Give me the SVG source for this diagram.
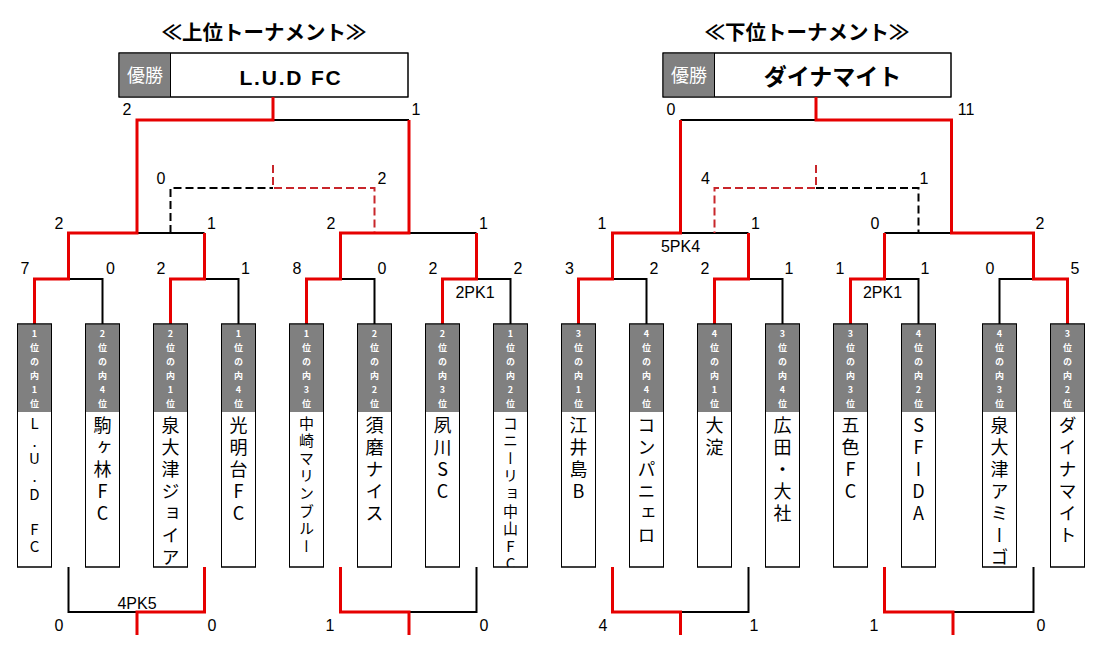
<svg xmlns="http://www.w3.org/2000/svg" width="1102" height="650" viewBox="0 0 1102 650">
<style>
.bg{fill:#fff}
.title{font-family:"Noto Sans CJK JP","Noto Sans CJK SC",sans-serif;font-size:20.5px;font-weight:bold;text-anchor:middle;fill:#000}
.cbox{fill:#fff;stroke:#000;stroke-width:1}
.gray{fill:#808080}
.ol{fill:none;stroke:#000;stroke-width:1}
.yu{font-family:"Noto Sans CJK JP",sans-serif;font-size:18px;fill:#fff;text-anchor:middle}
.champ{font-family:"Liberation Sans","Noto Sans CJK JP",sans-serif;font-size:21px;font-weight:bold;letter-spacing:1.8px;text-anchor:middle;fill:#000}
.champj{font-family:"Noto Sans CJK JP",sans-serif;font-size:23px;font-weight:bold;text-anchor:middle;fill:#000}
.lb{font-family:"Noto Sans CJK JP",sans-serif;font-size:9px;font-weight:bold;fill:#fff;writing-mode:vertical-rl;text-orientation:upright;letter-spacing:5px}
.nm{font-family:"Noto Sans CJK JP",sans-serif;font-size:18px;fill:#000;writing-mode:vertical-rl;text-orientation:upright;letter-spacing:4px}
.nms{font-family:"Noto Sans CJK JP",sans-serif;font-size:15px;fill:#000;writing-mode:vertical-rl;text-orientation:upright;letter-spacing:2.6px}
.sc{font-family:"Liberation Sans",Arial,sans-serif;font-size:16px;fill:#000;text-anchor:middle}
.r{fill:none;stroke:#e60000;stroke-width:3;stroke-linejoin:miter}
.k{fill:none;stroke:#000;stroke-width:2;stroke-linejoin:miter}
.rd{fill:none;stroke:#c8262b;stroke-width:2;stroke-dasharray:8 4}
.kd{fill:none;stroke:#000;stroke-width:2;stroke-dasharray:8 4}
</style>
<defs>
<clipPath id="cw" clipPathUnits="userSpaceOnUse">
<rect x="17.5" y="412" width="34" height="155"/><rect x="85.5" y="412" width="34" height="155"/><rect x="153.5" y="412" width="34" height="155"/><rect x="221.5" y="412" width="34" height="155"/>
<rect x="289.5" y="412" width="34" height="155"/><rect x="357.5" y="412" width="34" height="155"/><rect x="425.5" y="412" width="34" height="155"/><rect x="493.5" y="412" width="34" height="155"/>
<rect x="561.5" y="412" width="34" height="155"/><rect x="629.5" y="412" width="34" height="155"/><rect x="697.5" y="412" width="34" height="155"/><rect x="765.5" y="412" width="34" height="155"/>
<rect x="833.5" y="412" width="34" height="155"/><rect x="901.5" y="412" width="34" height="155"/><rect x="982.5" y="412" width="34" height="155"/><rect x="1050.5" y="412" width="34" height="155"/>
</clipPath>
</defs>
<rect class="bg" x="0" y="0" width="1102" height="650"/>

<text class="title" x="264" y="40">≪上位トーナメント≫</text>
<text class="title" x="807" y="40">≪下位トーナメント≫</text>

<g id="champion-upper">
<rect class="cbox" x="119" y="53" width="289" height="44"/>
<rect class="gray" x="119.5" y="53.5" width="51" height="43"/>
<rect class="ol" x="119" y="53" width="289" height="44"/>
<line x1="170.5" y1="53" x2="170.5" y2="97" stroke="#000" stroke-width="1"/>
<text class="yu" x="145" y="82">優勝</text>
<text class="champ" x="291" y="85">L.U.D FC</text>
</g>
<g id="champion-lower">
<rect class="cbox" x="663" y="53" width="288" height="44"/>
<rect class="gray" x="663.5" y="53.5" width="51" height="43"/>
<rect class="ol" x="663" y="53" width="288" height="44"/>
<line x1="714.5" y1="53" x2="714.5" y2="97" stroke="#000" stroke-width="1"/>
<text class="yu" x="689" y="82">優勝</text>
<text class="champj" x="832.5" y="85">ダイナマイト</text>
</g>

<g id="connectors">
<path class="k" d="M68.5,279 H102.5 V324 M204.5,279 H238.5 V324 M340.5,279 H374.5 V324 M476.5,279 H510.5 V324 M137,233 H204.5 M409,233 H476.5 M273,120 H409"/>
<path class="k" d="M68.5,567 V612 H137 M409,612 H476.5 V567"/>
<path class="kd" d="M170.5,233 V188 H273"/>
<path class="rd" d="M273,165 V188 H374.5 V233"/>
<path class="r" d="M34.5,324 V279 H68.5 V233 H137 V120 H273 V97"/>
<path class="r" d="M170.5,324 V279 H204.5 V233"/>
<path class="r" d="M306.5,324 V279 H340.5 V233 H409 V120"/>
<path class="r" d="M442.5,324 V279 H476.5 V233"/>
<path class="r" d="M204.5,567 V612 H137 V635"/>
<path class="r" d="M340.5,567 V612 H409 V635"/>
<path class="k" d="M612.5,279 H646.5 V324 M748.5,279 H782.5 V324 M884.5,279 H918.5 V324 M1033.5,279 H999.5 V324 M680.5,233 H748.5 M884.5,233 H951.5 M680.5,120 H816"/>
<path class="k" d="M680.5,612 H748.5 V567 M953,612 H1033.5 V567"/>
<path class="kd" d="M816,188 H918.5 V233"/>
<path class="rd" d="M816,165 V188 H714.5 V233"/>
<path class="r" d="M578.5,324 V279 H612.5 V233 H680.5 V120"/>
<path class="r" d="M714.5,324 V279 H748.5 V233"/>
<path class="r" d="M850.5,324 V279 H884.5 V233"/>
<path class="r" d="M1067.5,324 V279 H1033.5 V233 H951.5 V120 H816 V97"/>
<path class="r" d="M612.5,567 V612 H680.5 V635"/>
<path class="r" d="M884.5,567 V612 H953 V635"/>
</g>

<g id="scores">
<text class="sc" x="127" y="115">2</text><text class="sc" x="416" y="115">1</text>
<text class="sc" x="161" y="184">0</text><text class="sc" x="382" y="184">2</text>
<text class="sc" x="59" y="229">2</text><text class="sc" x="211.5" y="229">1</text><text class="sc" x="331" y="229">2</text><text class="sc" x="483.5" y="229">1</text>
<text class="sc" x="25" y="274">7</text><text class="sc" x="110.5" y="274">0</text><text class="sc" x="161" y="274">2</text><text class="sc" x="245.5" y="274">1</text>
<text class="sc" x="297" y="274">8</text><text class="sc" x="382" y="274">0</text><text class="sc" x="433" y="274">2</text><text class="sc" x="518" y="274">2</text>
<text class="sc" x="475" y="298">2PK1</text>
<text class="sc" x="137" y="609">4PK5</text>
<text class="sc" x="59" y="631">0</text><text class="sc" x="212" y="631">0</text><text class="sc" x="330" y="631">1</text><text class="sc" x="484" y="631">0</text>

<text class="sc" x="671" y="115">0</text><text class="sc" x="966" y="115">11</text>
<text class="sc" x="705.5" y="184">4</text><text class="sc" x="924" y="184">1</text>
<text class="sc" x="602" y="229">1</text><text class="sc" x="755.5" y="229">1</text><text class="sc" x="875" y="229">0</text><text class="sc" x="1040" y="229">2</text>
<text class="sc" x="680.5" y="252">5PK4</text>
<text class="sc" x="569.5" y="274">3</text><text class="sc" x="654" y="274">2</text><text class="sc" x="705" y="274">2</text><text class="sc" x="789" y="274">1</text>
<text class="sc" x="840" y="274">1</text><text class="sc" x="925" y="274">1</text><text class="sc" x="990" y="274">0</text><text class="sc" x="1075" y="274">5</text>
<text class="sc" x="882.5" y="298">2PK1</text>
<text class="sc" x="603" y="631">4</text><text class="sc" x="754" y="631">1</text><text class="sc" x="874" y="631">1</text><text class="sc" x="1041" y="631">0</text>
</g>

<g id="team-u1"><rect class="cbox" x="17.5" y="324" width="34" height="243"/><rect class="gray" x="17.5" y="324" width="34" height="88"/><rect class="ol" x="17.5" y="324" width="34" height="243"/><text class="lb" x="34.5" y="329.5">1位の内1位</text><text class="nms" x="34.5" y="416" clip-path="url(#cw)">L.U.D FC</text></g>
<g id="team-u2"><rect class="cbox" x="85.5" y="324" width="34" height="243"/><rect class="gray" x="85.5" y="324" width="34" height="88"/><rect class="ol" x="85.5" y="324" width="34" height="243"/><text class="lb" x="102.5" y="329.5">2位の内4位</text><text class="nm" x="102.5" y="416" clip-path="url(#cw)">駒ヶ林FC</text></g>
<g id="team-u3"><rect class="cbox" x="153.5" y="324" width="34" height="243"/><rect class="gray" x="153.5" y="324" width="34" height="88"/><rect class="ol" x="153.5" y="324" width="34" height="243"/><text class="lb" x="170.5" y="329.5">2位の内1位</text><text class="nm" x="170.5" y="416" clip-path="url(#cw)">泉大津ジョイア</text></g>
<g id="team-u4"><rect class="cbox" x="221.5" y="324" width="34" height="243"/><rect class="gray" x="221.5" y="324" width="34" height="88"/><rect class="ol" x="221.5" y="324" width="34" height="243"/><text class="lb" x="238.5" y="329.5">1位の内4位</text><text class="nm" x="238.5" y="416" clip-path="url(#cw)">光明台FC</text></g>
<g id="team-u5"><rect class="cbox" x="289.5" y="324" width="34" height="243"/><rect class="gray" x="289.5" y="324" width="34" height="88"/><rect class="ol" x="289.5" y="324" width="34" height="243"/><text class="lb" x="306.5" y="329.5">1位の内3位</text><text class="nms" x="306.5" y="415.5" clip-path="url(#cw)">中崎マリンブルー</text></g>
<g id="team-u6"><rect class="cbox" x="357.5" y="324" width="34" height="243"/><rect class="gray" x="357.5" y="324" width="34" height="88"/><rect class="ol" x="357.5" y="324" width="34" height="243"/><text class="lb" x="374.5" y="329.5">2位の内2位</text><text class="nm" x="374.5" y="416" clip-path="url(#cw)">須磨ナイス</text></g>
<g id="team-u7"><rect class="cbox" x="425.5" y="324" width="34" height="243"/><rect class="gray" x="425.5" y="324" width="34" height="88"/><rect class="ol" x="425.5" y="324" width="34" height="243"/><text class="lb" x="442.5" y="329.5">2位の内3位</text><text class="nm" x="442.5" y="416" clip-path="url(#cw)">夙川SC</text></g>
<g id="team-u8"><rect class="cbox" x="493.5" y="324" width="34" height="243"/><rect class="gray" x="493.5" y="324" width="34" height="88"/><rect class="ol" x="493.5" y="324" width="34" height="243"/><text class="lb" x="510.5" y="329.5">1位の内2位</text><text class="nms" x="510.5" y="415.5" clip-path="url(#cw)">コニーリョ中山FC</text></g>

<g id="team-l1"><rect class="cbox" x="561.5" y="324" width="34" height="243"/><rect class="gray" x="561.5" y="324" width="34" height="88"/><rect class="ol" x="561.5" y="324" width="34" height="243"/><text class="lb" x="578.5" y="329.5">3位の内1位</text><text class="nm" x="578.5" y="416" clip-path="url(#cw)">江井島B</text></g>
<g id="team-l2"><rect class="cbox" x="629.5" y="324" width="34" height="243"/><rect class="gray" x="629.5" y="324" width="34" height="88"/><rect class="ol" x="629.5" y="324" width="34" height="243"/><text class="lb" x="646.5" y="329.5">4位の内4位</text><text class="nm" x="646.5" y="416" clip-path="url(#cw)">コンパニェロ</text></g>
<g id="team-l3"><rect class="cbox" x="697.5" y="324" width="34" height="243"/><rect class="gray" x="697.5" y="324" width="34" height="88"/><rect class="ol" x="697.5" y="324" width="34" height="243"/><text class="lb" x="714.5" y="329.5">4位の内1位</text><text class="nm" x="714.5" y="416" clip-path="url(#cw)">大淀</text></g>
<g id="team-l4"><rect class="cbox" x="765.5" y="324" width="34" height="243"/><rect class="gray" x="765.5" y="324" width="34" height="88"/><rect class="ol" x="765.5" y="324" width="34" height="243"/><text class="lb" x="782.5" y="329.5">3位の内4位</text><text class="nm" x="782.5" y="416" clip-path="url(#cw)">広田・大社</text></g>
<g id="team-l5"><rect class="cbox" x="833.5" y="324" width="34" height="243"/><rect class="gray" x="833.5" y="324" width="34" height="88"/><rect class="ol" x="833.5" y="324" width="34" height="243"/><text class="lb" x="850.5" y="329.5">3位の内3位</text><text class="nm" x="850.5" y="416" clip-path="url(#cw)">五色FC</text></g>
<g id="team-l6"><rect class="cbox" x="901.5" y="324" width="34" height="243"/><rect class="gray" x="901.5" y="324" width="34" height="88"/><rect class="ol" x="901.5" y="324" width="34" height="243"/><text class="lb" x="918.5" y="329.5">4位の内2位</text><text class="nm" x="918.5" y="416" clip-path="url(#cw)">SFIDA</text></g>
<g id="team-l7"><rect class="cbox" x="982.5" y="324" width="34" height="243"/><rect class="gray" x="982.5" y="324" width="34" height="88"/><rect class="ol" x="982.5" y="324" width="34" height="243"/><text class="lb" x="999.5" y="329.5">4位の内3位</text><text class="nm" x="999.5" y="416" clip-path="url(#cw)">泉大津アミーゴ</text></g>
<g id="team-l8"><rect class="cbox" x="1050.5" y="324" width="34" height="243"/><rect class="gray" x="1050.5" y="324" width="34" height="88"/><rect class="ol" x="1050.5" y="324" width="34" height="243"/><text class="lb" x="1067.5" y="329.5">3位の内2位</text><text class="nm" x="1067.5" y="416" clip-path="url(#cw)">ダイナマイト</text></g>
</svg>
